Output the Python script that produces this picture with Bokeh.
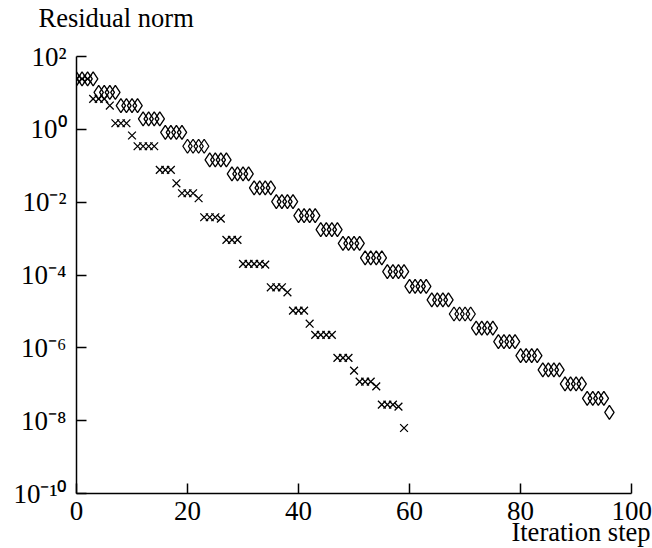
from bokeh.plotting import figure
from bokeh.models import Range1d, FixedTicker, CustomJSTickFormatter, Title
from bokeh.embed import file_html
from bokeh.resources import INLINE

# ---- data ----
diamond_steps = list(range(0, 97))
diamond_norm = [
    24.4, 24.4, 24.4, 24.4,
    10.4, 10.4, 10.4, 10.4,
    4.5, 4.5, 4.5, 4.5,
    1.94, 1.94, 1.94, 1.94,
    0.83, 0.83, 0.83, 0.83,
    0.343, 0.343, 0.343, 0.343,
    0.145, 0.145, 0.145, 0.145,
    0.060, 0.060, 0.060, 0.060,
    0.0247, 0.0247, 0.0247, 0.0247,
    0.0104, 0.0104, 0.0104, 0.0104,
    0.0043, 0.0043, 0.0043, 0.0043,
    0.00177, 0.00177, 0.00177, 0.00177,
    7.4e-4, 7.4e-4, 7.4e-4, 7.4e-4,
    2.95e-4, 2.95e-4, 2.95e-4, 2.95e-4,
    1.24e-4, 1.24e-4, 1.24e-4, 1.24e-4,
    4.9e-5, 4.9e-5, 4.9e-5, 4.9e-5,
    2.07e-5, 2.07e-5, 2.07e-5, 2.07e-5,
    8.5e-6, 8.5e-6, 8.5e-6, 8.5e-6,
    3.5e-6, 3.5e-6, 3.5e-6, 3.5e-6,
    1.48e-6, 1.48e-6, 1.48e-6, 1.48e-6,
    6.1e-7, 6.1e-7, 6.1e-7, 6.1e-7,
    2.47e-7, 2.47e-7, 2.47e-7, 2.47e-7,
    1.02e-7, 1.02e-7, 1.02e-7, 1.02e-7,
    4.1e-8, 4.1e-8, 4.1e-8, 4.1e-8,
    1.69e-8,
]

cross_steps = list(range(0, 60))
cross_norm = [
    24.4, 24.4, 24.4,
    6.88, 6.88, 6.88, 4.5,
    1.47, 1.47, 1.47, 0.676,
    0.343, 0.343, 0.343, 0.343,
    0.0771, 0.0771, 0.0771, 0.0330,
    0.0176, 0.0176, 0.0176, 0.0128,
    0.00385, 0.00385, 0.00385, 0.00354,
    9.2e-4, 9.2e-4, 9.2e-4,
    2.02e-4, 2.02e-4, 2.02e-4, 2.02e-4, 1.93e-4,
    4.6e-5, 4.6e-5, 4.6e-5, 3.35e-5,
    1.05e-5, 1.05e-5, 1.05e-5, 4.6e-6,
    2.26e-6, 2.26e-6, 2.26e-6, 2.26e-6,
    5.3e-7, 5.3e-7, 5.3e-7, 2.37e-7,
    1.18e-7, 1.18e-7, 1.18e-7, 8.75e-8,
    2.75e-8, 2.75e-8, 2.75e-8, 2.43e-8,
    6.3e-9,
]

x_ticks = [0, 20, 40, 60, 80, 100]
y_ticks = [1e2, 1e0, 1e-2, 1e-4, 1e-6, 1e-8, 1e-10]
x_title = "Iteration step"
y_title = "Residual norm"

FONT = "Liberation Serif"
FS = "27px"
TFS = "26.5px"

p = figure(width=652, height=548, output_backend="svg", toolbar_location=None,
           y_axis_type="log",
           x_range=Range1d(0, 103.4), y_range=Range1d(1e-10, 1e2),
           min_border_left=76, min_border_right=2,
           min_border_top=56, min_border_bottom=55)
p.outline_line_color = None
p.grid.visible = False
p.background_fill_color = "white"
p.border_fill_color = "white"

p.scatter(diamond_steps, diamond_norm, marker="diamond", size=14,
          fill_color=None, line_color="black", line_width=1.3)
p.scatter(cross_steps, cross_norm, marker="x", size=11,
          line_color="black", line_width=1.3)

xa = p.xaxis[0]
xa.ticker = FixedTicker(ticks=x_ticks, minor_ticks=[])
xa.bounds = (0, 100)
ya = p.yaxis[0]
ya.ticker = FixedTicker(ticks=y_ticks, minor_ticks=[])
ya.formatter = CustomJSTickFormatter(code="""
const e = Math.round(Math.log10(tick));
const sup = {"-":"\u207b","0":"\u2070","1":"\u00b9","2":"\u00b2","3":"\u00b3",
             "4":"\u2074","5":"\u2075","6":"\u2076","7":"\u2077","8":"\u2078","9":"\u2079"};
return "10" + String(e).split("").map(c => sup[c]).join("");
""")

for ax in (xa, ya):
    ax.major_label_text_font = FONT
    ax.major_label_text_font_size = FS
    ax.major_label_text_color = "black"
    ax.major_tick_in = 10
    ax.major_tick_out = 0
    ax.minor_tick_in = 0
    ax.minor_tick_out = 0
    ax.axis_line_width = 1.5
    ax.major_tick_line_width = 1.5
    ax.axis_line_color = "black"
    ax.major_tick_line_color = "black"
xa.major_label_standoff = 8
ya.major_label_standoff = 10

# x title: right-aligned below the tick labels
p.add_layout(Title(text=x_title, align="right", vertical_align="top", standoff=-12,
                   text_font=FONT, text_font_size=TFS,
                   text_font_style="normal", text_color="black"), "below")

# y title: at the top left; a small blank spacer lifts it off the frame
p.add_layout(Title(text=" ", standoff=8, text_font=FONT, text_font_size="12px",
                   text_color="white"), "above")
p.add_layout(Title(text=y_title, align="left", offset=-38, standoff=0,
                   vertical_align="bottom",
                   text_font=FONT, text_font_size=TFS,
                   text_font_style="normal", text_color="black"), "above")

open("out.html", "w").write(file_html(p, INLINE))
